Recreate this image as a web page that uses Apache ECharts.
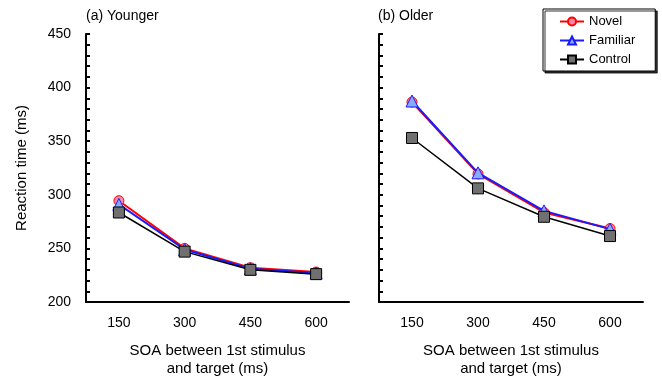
<!DOCTYPE html>
<html><head><meta charset="utf-8">
<script src="https://cdn.jsdelivr.net/npm/echarts@6/dist/echarts.min.js"></script>
<style>html,body{margin:0;padding:0;background:#fff}#c{width:662px;height:378px}</style>
</head><body><div id="c"></div>
<script>
var categories = ['150', '300', '450', '600'];
var youngNovel = [294.5, 250, 232, 228];
var youngFamiliar = [291, 249, 231, 227];
var youngControl = [283.5, 247, 230, 226];
var oldNovel = [386.5, 319.5, 283.5, 268.5];
var oldFamiliar = [387.5, 320.5, 285, 268];
var oldControl = [353, 306, 279.5, 261.5];
var panelTitles = ['(a) Younger', '(b) Older'];
var xName = 'SOA between 1st stimulus\nand target (ms)';
var yName = 'Reaction time (ms)';

var FONT = 'Liberation Sans';
var chart = echarts.init(document.getElementById('c'), null, {renderer: 'canvas'});

function xAxis(idx) {
  return {
    type: 'category', gridIndex: idx, data: categories, boundaryGap: true,
    axisLine: {lineStyle: {color: '#000', width: 2}},
    axisTick: {inside: true, length: 6, lineStyle: {color: '#000', width: 2}},
    axisLabel: {color: '#000', fontFamily: FONT, fontSize: 14, margin: 14},
    name: xName, nameLocation: 'middle', nameGap: 40,
    nameTextStyle: {color: '#000', fontFamily: FONT, fontSize: 15, lineHeight: 18}
  };
}
function yAxis(idx, showLabel) {
  return {
    type: 'value', gridIndex: idx, min: 200, max: 450, interval: 10,
    splitLine: {show: false},
    axisLine: {show: true, lineStyle: {color: '#000', width: 2}},
    axisTick: {show: true, inside: true, length: 4, lineStyle: {color: '#000', width: 2}},
    axisLabel: {show: showLabel, color: '#000', fontFamily: FONT, fontSize: 14, margin: 15,
      formatter: function (v) { return v % 50 === 0 ? String(v) : ''; }},
    name: showLabel ? yName : '', nameLocation: 'middle', nameGap: 57,
    nameTextStyle: {color: '#000', fontFamily: FONT, fontSize: 15}
  };
}
function ser(name, data, idx, kind) {
  var st = {
    Novel: {symbol: 'circle', size: 10, line: '#ff0000', fill: '#ff88aa', w: 2, z: 3},
    Familiar: {symbol: 'triangle', size: 12, line: '#1a1aff', fill: '#88aaff', w: 2, z: 4},
    Control: {symbol: 'rect', size: 11, line: '#000000', fill: '#707070', w: 1.5, z: 5}
  }[kind];
  return {
    name: name, type: 'line', xAxisIndex: idx, yAxisIndex: idx, data: data,
    symbol: st.symbol, symbolSize: st.size, z: st.z,
    lineStyle: {color: st.line, width: st.w},
    itemStyle: {color: st.fill, borderColor: st.line, borderWidth: 1},
    animation: false
  };
}

chart.setOption({
  animation: false,
  textStyle: {fontFamily: FONT},
  title: [
    {text: panelTitles[0], left: 81, top: 4, textStyle: {fontFamily: FONT, fontSize: 14, fontWeight: 'normal', color: '#000'}},
    {text: panelTitles[1], left: 373, top: 4, textStyle: {fontFamily: FONT, fontSize: 14, fontWeight: 'normal', color: '#000'}}
  ],
  legend: {
    orient: 'vertical', left: 543, top: 9, width: 111,
    padding: [6, 20, 5, 16], itemGap: 6, itemWidth: 24, itemHeight: 10,
    backgroundColor: '#fff', borderColor: '#000', borderWidth: 1,
    shadowColor: 'rgba(0,0,0,0.8)', shadowOffsetX: 2, shadowOffsetY: 2, shadowBlur: 0,
    textStyle: {fontFamily: FONT, fontSize: 13, color: '#000'},
    data: ['Novel', 'Familiar', 'Control']
  },
  grid: [
    {left: 86, right: 313, top: 34, bottom: 76, outerBoundsMode: 'none', containLabel: false},
    {left: 379, right: 19, top: 34, bottom: 76, outerBoundsMode: 'none', containLabel: false}
  ],
  xAxis: [xAxis(0), xAxis(1)],
  yAxis: [yAxis(0, true), yAxis(1, false)],
  series: [
    ser('Novel', youngNovel, 0, 'Novel'),
    ser('Familiar', youngFamiliar, 0, 'Familiar'),
    ser('Control', youngControl, 0, 'Control'),
    ser('Novel', oldNovel, 1, 'Novel'),
    ser('Familiar', oldFamiliar, 1, 'Familiar'),
    ser('Control', oldControl, 1, 'Control')
  ]
});
</script></body></html>
